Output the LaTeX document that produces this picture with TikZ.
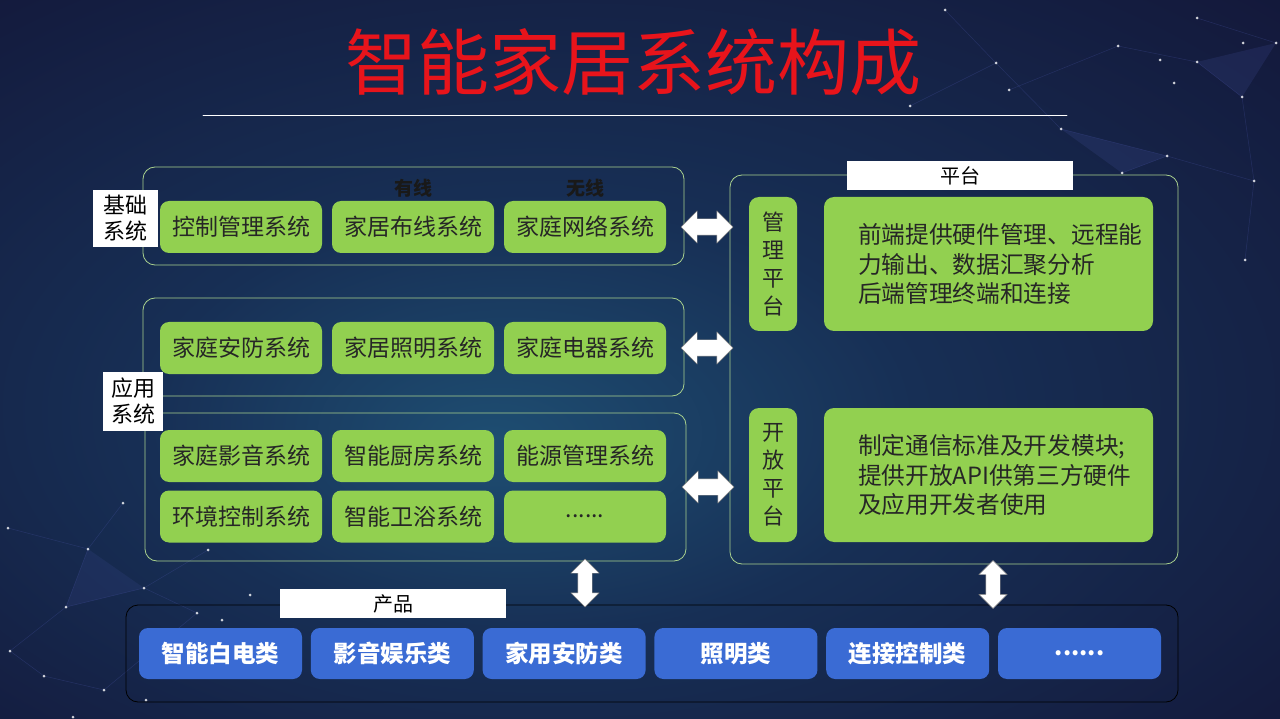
\documentclass[tikz,border=0pt]{standalone}
\usepackage{fontspec}
\setmainfont{Noto Sans CJK SC}
\usetikzlibrary{shapes.arrows, positioning, calc}

\definecolor{bgdark}{HTML}{131638}
\definecolor{bgmid}{HTML}{172F55}
\definecolor{bglight}{HTML}{1E4E72}
\definecolor{meshblue}{HTML}{4A55A8}
\definecolor{boxgreen}{HTML}{92D050}
\definecolor{framegreen}{HTML}{A9D18E}
\definecolor{prodblue}{HTML}{3A6BD4}
\definecolor{titlered}{HTML}{E8141B}

\newcommand{\moredots}{......}

\pgfdeclareradialshading{bgglow}{\pgfpoint{-6bp}{-6bp}}{color(0bp)=(bglight); color(15bp)=(bgmid); color(40bp)=(bgdark); color(50bp)=(bgdark)}

\begin{document}
\begin{tikzpicture}[x=1pt,y=-1pt,line cap=round,line join=round,
  grpbox/.style={draw=framegreen, line width=0.8pt, rounded corners=12pt, inner sep=0pt},
  sysbox/.style={fill=boxgreen, rounded corners=9pt, minimum width=162pt, minimum height=52pt, inner sep=0pt, text=black!85, font=\fontsize{23}{26}\selectfont},
  tagbox/.style={fill=white, inner sep=0pt, text=black, font=\fontsize{20}{24}\selectfont},
  wiretag/.style={inner sep=0pt, text=black!90, font=\fontsize{19}{22}\bfseries\selectfont},
  platbox/.style={fill=boxgreen, rounded corners=10pt, minimum height=134pt, inner sep=0pt},
  plattext/.style={inner sep=0pt, align=left, text=black!85, font=\fontsize{23.7}{29.5}\selectfont},
  vertext/.style={inner sep=0pt, align=center, text=black!85, font=\fontsize{22}{28}\selectfont},
  prodbox/.style={fill=prodblue, rounded corners=9pt, minimum width=163pt, minimum height=51pt, inner sep=0pt, text=white, font=\fontsize{23.5}{26}\bfseries\selectfont},
  linkarrow/.style={double arrow, fill=white, draw=black!50, line width=0.4pt, double arrow head extend=8pt, inner xsep=0pt, inner ysep=8pt, minimum height=52pt},
]
\useasboundingbox (0,0) rectangle (1280,719);

% background
\shade[shading=bgglow] (0,0) rectangle (1280,719);
\foreach \xa/\ya/\xb/\yb in {945/10/996/63, 996/63/1061/129, 1061/129/1167/156, 1118/46/1197/62, 1197/62/1242/97, 1242/97/1254/181, 1167/156/1254/181, 1254/181/1245/260, 910/106/996/63, 1122/173/1167/156, 1009/90/1118/46, 1197/18/1276/43,
  8/528/88/549, 88/549/123/503, 88/549/66/607, 66/607/144/588, 144/588/197/613, 10/651/66/607, 44/676/104/690, 104/690/197/613, 208/550/144/588, 44/676/10/651}
  \draw[meshblue, opacity=0.3, line width=0.5pt] (\xa,\ya) -- (\xb,\yb);
\fill[meshblue, opacity=0.18] (1061,129) -- (1167,156) -- (1122,173) -- cycle;
\fill[meshblue, opacity=0.18] (1197,62) -- (1242,97) -- (1276,43) -- cycle;
\fill[meshblue, opacity=0.15] (88,549) -- (144,588) -- (66,607) -- cycle;
\foreach \sx/\sy in {945/10, 996/63, 1009/90, 910/106, 1061/129, 1118/46, 1197/62, 1197/18, 1243/43, 1276/43, 1242/97, 1167/156, 1254/181, 1245/260, 1122/173, 1160/60, 1174/83,
  8/528, 88/549, 123/503, 66/607, 144/588, 10/651, 44/676, 104/690, 197/613, 222/620, 250/595, 208/550, 146/700, 73/717}
  \fill[white, opacity=0.8] (\sx,\sy) circle (1.5pt);

% title
\node[inner sep=0pt, text=titlered, font=\fontsize{72}{74}\selectfont] (title) at (633,62) {智能家居系统构成};
\coordinate (ruleL) at (203,115);
\coordinate (ruleR) at (1067,115);
\draw[white, line width=0.9pt] (ruleL) -- (ruleR);

% left side: systems
\node[grpbox, minimum width=541pt, minimum height=98pt] (grpBase) at (413.5,216) {};
\node[grpbox, minimum width=541pt, minimum height=98pt] (grpLifeA) at (413.5,347) {};
\node[grpbox, minimum width=541pt, minimum height=148pt] (grpLifeB) at (415.5,487) {};

\node[sysbox] (sysA1) at (241,227) {控制管理系统};
\node[sysbox] (sysA2) at (413,227) {家居布线系统};
\node[sysbox] (sysA3) at (585,227) {家庭网络系统};
\node[wiretag] (wired) at (413,188) {有线};
\node[wiretag] (wireless) at (585,188) {无线};

\node[sysbox] (sysB1) at (241,348) {家庭安防系统};
\node[sysbox] (sysB2) at (413,348) {家居照明系统};
\node[sysbox] (sysB3) at (585,348) {家庭电器系统};

\node[sysbox] (sysC1) at (241,456) {家庭影音系统};
\node[sysbox] (sysC2) at (413,456) {智能厨房系统};
\node[sysbox] (sysC3) at (585,456) {能源管理系统};
\node[sysbox] (sysD1) at (241,516.5) {环境控制系统};
\node[sysbox] (sysD2) at (413,516.5) {智能卫浴系统};
\node[sysbox] (sysD3) at (585,516.5) {\moredots};

\node[tagbox, minimum width=65pt, minimum height=57pt, align=center, font=\fontsize{22}{26}\selectfont] (tagBase) at (125.5,218.5) {基础\\系统};
\node[tagbox, minimum width=60pt, minimum height=59pt, align=center, font=\fontsize{22}{26}\selectfont] (tagLife) at (133,401.5) {应用\\系统};

% right side: platform
\node[grpbox, minimum width=448pt, minimum height=389pt] (plat) at (954,369.5) {};
\node[tagbox, minimum width=226pt, minimum height=29pt] (tagPlat) at (960,175.5) {平台};

\node[platbox, minimum width=48pt] (mgmtSide) at (773,264) {};
\node[vertext] (mgmtWord) at (mgmtSide) {管\\理\\平\\台};
\node[platbox, minimum width=329pt] (mgmtBox) at (988.5,264) {};
\node[plattext, anchor=west] (mgmtTxt) at ([xshift=34pt]mgmtBox.west) {前端提供硬件管理、远程能\\力输出、数据汇聚分析\\后端管理终端和连接};

\node[platbox, minimum width=48pt] (openSide) at (773,475) {};
\node[vertext] (openWord) at (openSide) {开\\放\\平\\台};
\node[platbox, minimum width=329pt] (openBox) at (988.5,475) {};
\node[plattext, anchor=west] (openTxt) at ([xshift=34pt]openBox.west) {制定通信标准及开发模块;\\提供开放API供第三方硬件\\及应用开发者使用};

% bottom: products
\node[draw=black, line width=0.8pt, rounded corners=12pt, minimum width=1052pt, minimum height=97pt, inner sep=0pt] (prodFrame) at (652,653.5) {};
\node[tagbox, minimum width=226pt, minimum height=29pt] (tagProd) at (393,603.5) {产品};
\foreach \name/\txt [count=\i from 0] in {prodA/智能白电类, prodB/影音娱乐类, prodC/家用安防类, prodD/照明类, prodE/连接控制类, prodF/\moredots}
  \node[prodbox] (\name) at (220.5+171.8*\i,653.5) {\txt};

% link arrows
\node[linkarrow] (linkA) at ($(grpBase.east |- sysA3.east)!0.5!(plat.west |- sysA3.east)$) {};
\node[linkarrow] (linkB) at ($(grpLifeA.east |- sysB3.east)!0.5!(plat.west |- sysB3.east)$) {};
\node[linkarrow] (linkC) at ($(grpLifeB.east)!0.5!(plat.west |- grpLifeB.east)$) {};
\node[linkarrow, rotate=90, inner ysep=7pt, minimum height=48pt, double arrow head extend=7pt] (linkD) at ($(sysD3.south |- grpLifeB.south)!0.5!(sysD3.south |- prodFrame.north)$) {};
\node[linkarrow, rotate=90, inner ysep=7pt, minimum height=48pt, double arrow head extend=7pt] (linkE) at ($(993,0 |- plat.south)!0.5!(993,0 |- prodFrame.north)$) {};

\end{tikzpicture}
\end{document}
